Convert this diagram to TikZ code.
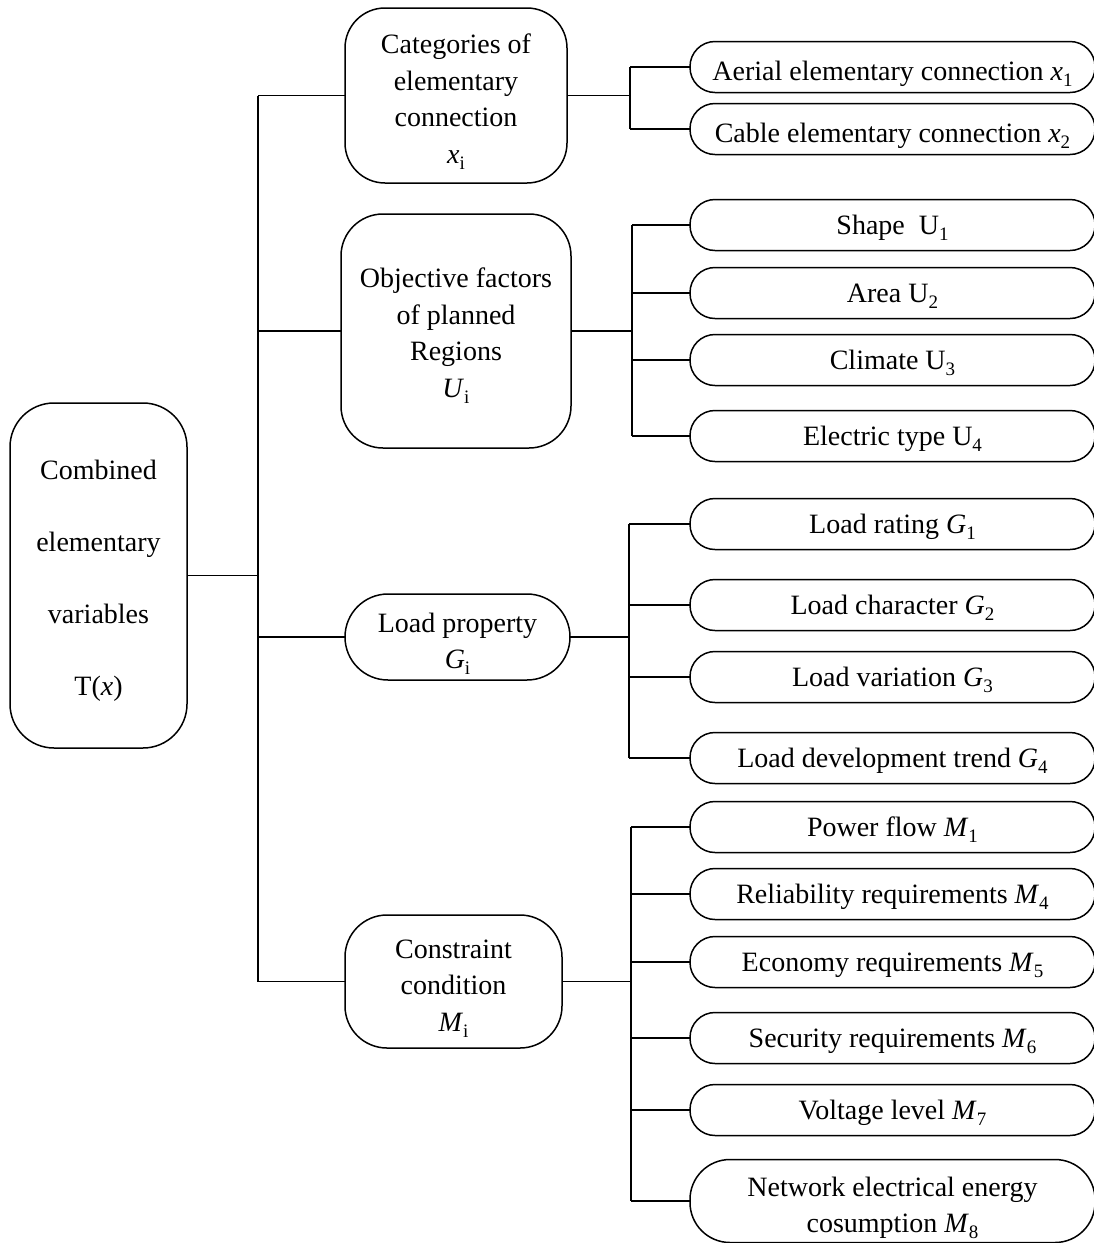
\documentclass[tikz,border=0pt]{standalone}
\usepackage{fontspec}
\setmainfont{Liberation Serif}
\newcommand{\sbs}[1]{\raisebox{-0.22em}{\fontsize{19}{19}\selectfont #1}}
\newcommand{\iv}[1]{\textit{#1}}
\newcommand{\tstr}[1]{\rule{0pt}{#1}}
\begin{document}
\begin{tikzpicture}[x=1pt,y=-1pt,
  every node/.style={inner sep=0pt, outer sep=0pt},
  box/.style={draw, line width=1.5pt, align=center, font=\fontsize{28}{36.5}\selectfont},
  leaf/.style={box, rounded corners=25pt, minimum width=405pt, minimum height=51pt,
               text height=26pt, text depth=8pt},
  conn/.style={line width=1.6pt}]
\useasboundingbox (0,0) rectangle (1094,1243);

% root
\node[box, rounded corners=44pt, minimum width=177pt, minimum height=345pt,
      font=\fontsize{28}{72}\selectfont] (root) at (98.5,575.5)
  {\tstr{30pt}Combined\\elementary\\variables\\T(\iv{x})};

% level 1
\node[box, rounded corners=40pt, minimum width=222pt, minimum height=175pt] (cat) at (456,95.5)
  {\tstr{32pt}Categories of\\elementary\\connection\\\iv{x}\sbs{i}};
\node[box, rounded corners=42pt, minimum width=230pt, minimum height=234pt] (obj) at (456,331)
  {\tstr{29pt}Objective factors\\of planned\\Regions\\\iv{U}\sbs{i}};
\node[box, rounded corners=43pt, minimum width=225pt, minimum height=86pt] (load) at (457.5,637)
  {\tstr{33pt}Load property\\\iv{G}\sbs{i}};
\node[box, rounded corners=42pt, minimum width=217pt, minimum height=133pt] (cons) at (453.5,981.5)
  {\tstr{33pt}Constraint\\condition\\\iv{M}\sbs{i}};

% leaves
\node[leaf, text height=30pt, text depth=4pt] (a1) at (892.5,67)  {Aerial elementary connection \iv{x}\sbs{1}};
\node[leaf, text height=30pt, text depth=4pt] (a2) at (892.5,129) {Cable elementary connection \iv{x}\sbs{2}};

\node[leaf] (u1) at (892.5,225) {Shape\ \ U\sbs{1}};
\node[leaf] (u2) at (892.5,293) {Area U\sbs{2}};
\node[leaf] (u3) at (892.5,360) {Climate U\sbs{3}};
\node[leaf] (u4) at (892.5,436) {Electric type U\sbs{4}};

\node[leaf] (g1) at (892.5,524) {Load rating \iv{G}\sbs{1}};
\node[leaf] (g2) at (892.5,605) {Load character \iv{G}\sbs{2}};
\node[leaf] (g3) at (892.5,677) {Load variation \iv{G}\sbs{3}};
\node[leaf] (g4) at (892.5,758) {Load development trend \iv{G}\sbs{4}};

\node[leaf] (m1) at (892.5,827)  {Power flow \iv{M}\sbs{1}};
\node[leaf] (m4) at (892.5,894)  {Reliability requirements \iv{M}\sbs{4}};
\node[leaf] (m5) at (892.5,962)  {Economy requirements \iv{M}\sbs{5}};
\node[leaf] (m6) at (892.5,1038) {Security requirements \iv{M}\sbs{6}};
\node[leaf] (m7) at (892.5,1110) {Voltage level \iv{M}\sbs{7}};
\node[box, rounded corners=40pt, minimum width=405pt, minimum height=83pt] (m8) at (892.5,1201)
  {\tstr{33pt}Network electrical energy\\cosumption \iv{M}\sbs{8}};

% bus coordinates
\coordinate (tr) at (258,0);
\coordinate (bc) at (630,0);
\coordinate (bu) at (632,0);
\coordinate (bg) at (629,0);
\coordinate (bm) at (631,0);

% trunk
\draw[conn] (root.east) -- (tr |- root.east);
\draw[conn] (tr |- cat.west) -- (tr |- cons.west);
\foreach \n in {cat,obj,load,cons} \draw[conn] (tr |- \n.west) -- (\n.west);

% categories
\draw[conn] (cat.east) -- (bc |- cat.east);
\draw[conn] (bc |- a1.west) -- (bc |- a2.west);
\foreach \n in {a1,a2} \draw[conn] (bc |- \n.west) -- (\n.west);

% objective
\draw[conn] (obj.east) -- (bu |- obj.east);
\draw[conn] (bu |- u1.west) -- (bu |- u4.west);
\foreach \n in {u1,u2,u3,u4} \draw[conn] (bu |- \n.west) -- (\n.west);

% load
\draw[conn] (load.east) -- (bg |- load.east);
\draw[conn] (bg |- g1.west) -- (bg |- g4.west);
\foreach \n in {g1,g2,g3,g4} \draw[conn] (bg |- \n.west) -- (\n.west);

% constraint
\draw[conn] (cons.east) -- (bm |- cons.east);
\draw[conn] (bm |- m1.west) -- (bm |- m8.west);
\foreach \n in {m1,m4,m5,m6,m7,m8} \draw[conn] (bm |- \n.west) -- (\n.west);
\end{tikzpicture}
\end{document}
